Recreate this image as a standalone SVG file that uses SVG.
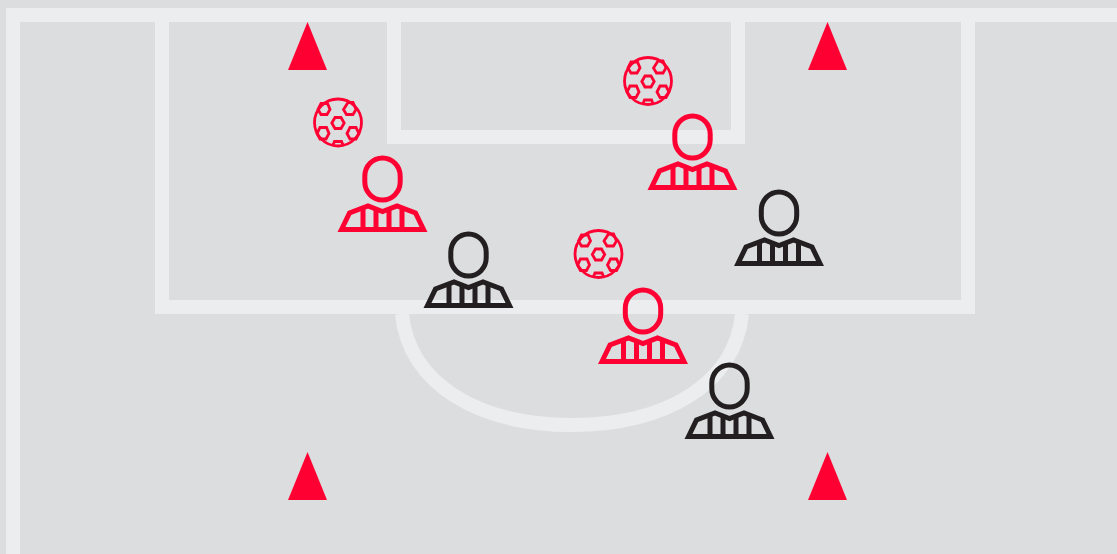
<svg xmlns="http://www.w3.org/2000/svg" width="1117" height="554" viewBox="0 0 1117 554">
<style>
.line{fill:none;stroke:#ecedef;stroke-width:14}
.cone{fill:#ff0033}
.red{color:#ff0033}
.black{color:#231f20}
.head,.body,.stripe{fill:none;stroke:currentColor;stroke-width:5}
.ball{fill:none;stroke:#ff0033;stroke-width:2.8}
</style>
<defs>
<g id="player">
<rect class="head" x="-17.700" y="-21" width="35.400" height="42" rx="17.700" ry="18.200"/>
<path class="body" d="M-41 50.500 L-33 34 L-14.500 27 L0 32.500 L14.500 27 L33 34 L41 50.500 Z"/>
<path class="stripe" d="M-19.500 29V50M-6.500 31V50M6.500 31V50M19.500 29V50"/>
</g>
<g id="ball">
<circle class="ball" cx="0" cy="0" r="23.500"/>
<path class="ball" d="M-6.200 0.500L-3 -5H3L6.200 0.500L3 6H-3Z"/>
<path class="ball" d="M-20 -13L-17 -19H-10.500L-8 -13L-11 -8H-17Z"/>
<path class="ball" d="M5.500 -13L10 -20H15L18 -13L15 -8H8.500Z"/>
<path class="ball" d="M-21 11L-18 5H-11.500L-9 11L-12 16.500H-18Z"/>
<path class="ball" d="M9 11L12 5H18L21 11L18 16.500H12Z"/>
<path class="ball" d="M-5 22.500L-3.500 19H3.500L5 22.500"/>
</g>
</defs>
<rect width="1117" height="554" fill="#dcdddf"/>
<g id="pitch-lines">
<path class="line" d="M13 554V15H1117"/>
<path class="line" d="M162 15V307H968V15"/>
<path class="line" d="M394 15V137H738V15"/>
<path class="line" d="M402 314C409 385 480 425 572 425C664 425 735 385 742 314"/>
</g>
<g id="cones">
<polygon class="cone" points="307.500,22 327,70 288,70"/>
<polygon class="cone" points="827.500,22 847,70 808,70"/>
<polygon class="cone" points="307.500,452 327,500 288,500"/>
<polygon class="cone" points="827.500,452 847,500 808,500"/>
</g>
<g id="balls">
<use href="#ball" x="338" y="122.500"/>
<use href="#ball" x="648" y="81"/>
<use href="#ball" x="598.500" y="254"/>
</g>
<g id="red-player-1" class="red"><use href="#player" x="382.500" y="179"/></g>
<g id="red-player-2" class="red"><use href="#player" x="692.500" y="137"/></g>
<g id="red-player-3" class="red"><use href="#player" x="643" y="311"/></g>
<g id="black-player-1" class="black"><use href="#player" x="468.500" y="255"/></g>
<g id="black-player-2" class="black"><use href="#player" x="779" y="213"/></g>
<g id="black-player-3" class="black"><use href="#player" x="729.500" y="386"/></g>
</svg>
